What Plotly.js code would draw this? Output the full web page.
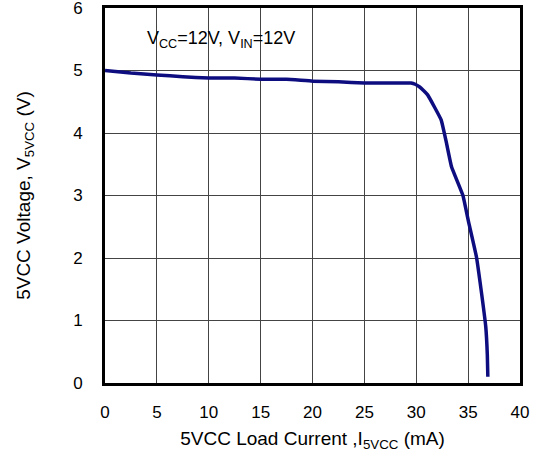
<!DOCTYPE html>
<html><head><meta charset="utf-8">
<script src="https://cdn.plot.ly/plotly-3.0.1.min.js"></script>
<style>html,body{margin:0;padding:0;background:#fff}</style>
</head><body><div id="chart" style="width:536px;height:461px"></div>
<script>
const currentMA = [0, 2.5, 5, 7.5, 10, 12.5, 15, 17.5, 20, 22.5, 25, 27.5, 29.5, 29.9, 30.3, 30.7, 31.1, 32.4, 32.9, 33.4, 34.5, 35.0, 35.8, 36.3, 36.7, 36.85, 36.9];
const voltageV = [5.0, 4.96, 4.93, 4.9, 4.88, 4.88, 4.86, 4.86, 4.83, 4.82, 4.8, 4.8, 4.8, 4.78, 4.74, 4.68, 4.61, 4.21, 3.85, 3.46, 3.0, 2.61, 2.02, 1.43, 0.9, 0.45, 0.1];
const xTicks = [0, 5, 10, 15, 20, 25, 30, 35, 40];
const yTicks = [0, 1, 2, 3, 4, 5, 6];
const noteText = 'V<sub>CC</sub>=12V, V<sub>IN</sub>=12V';

const font = {family: 'Liberation Sans, Arial, sans-serif', color: '#000'};
Plotly.newPlot('chart', [{
  x: currentMA, y: voltageV, mode: 'lines', type: 'scatter',
  line: {color: '#0d0d80', width: 3.5, shape: 'spline', smoothing: 0.3},
  hoverinfo: 'skip'
}], {
  width: 536, height: 461,
  margin: {l: 105, r: 16, t: 8, b: 78},
  paper_bgcolor: '#fff', plot_bgcolor: '#fff',
  showlegend: false,
  font: Object.assign({size: 17}, font),
  xaxis: {
    range: [0, 40], tickvals: xTicks, ticktext: xTicks.map(String),
    showgrid: true, gridcolor: '#444', gridwidth: 1, zeroline: false,
    showline: true, mirror: true, linecolor: '#000', linewidth: 3,
    ticks: 'outside', ticklen: 12, tickcolor: 'rgba(0,0,0,0)',
    tickfont: Object.assign({size: 17}, font),
    ticklabeloverflow: 'allow',
    title: {text: '5VCC Load Current ,I<sub>5VCC</sub> (mA)', font: Object.assign({size: 19}, font), standoff: 11}
  },
  yaxis: {
    range: [0, 6], tickvals: yTicks, ticktext: yTicks.map(String),
    showgrid: true, gridcolor: '#444', gridwidth: 1, zeroline: false,
    showline: true, mirror: true, linecolor: '#000', linewidth: 3,
    ticks: 'outside', ticklen: 16, tickcolor: 'rgba(0,0,0,0)',
    tickfont: Object.assign({size: 17}, font),
    ticklabeloverflow: 'allow',
    title: {text: '5VCC Voltage, V<sub>5VCC</sub> (V)', font: Object.assign({size: 19}, font), standoff: 38}
  },
  annotations: [{
    x: 3.9, y: 5.5, xref: 'x', yref: 'y', xanchor: 'left', yanchor: 'middle',
    text: noteText, showarrow: false, font: Object.assign({size: 18}, font)
  }]
}, {displayModeBar: false, staticPlot: true});
</script></body></html>
